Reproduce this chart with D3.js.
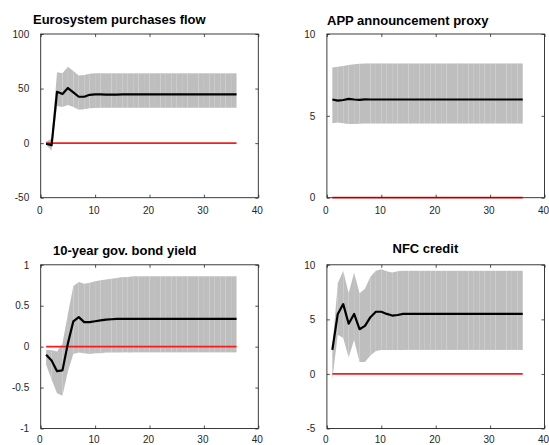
<!DOCTYPE html>
<html>
<head>
<meta charset="utf-8">
<script src="https://cdn.jsdelivr.net/npm/d3@7"></script>
<style>
  body { margin: 0; background: #fff; }
  svg { display: block; font-family: "Liberation Sans", Arial, Helvetica, sans-serif; }
</style>
</head>
<body>
<div id="chart"></div>
<script>
// horizons (months after the shock)
var horizon = [1,2,3,4,5,6,7,8,9,10,11,12,13,14,15,16,17,18,19,20,21,22,23,24,25,26,27,28,29,30,31,32,33,34,35,36];
var xTicks = [0, 10, 20, 30, 40];

// Eurosystem purchases flow
var purchMed = [-0.5,-2,47,45,50.5,46.5,42.5,42.5,44.3,44.6,44.6,44.5,44.4,44.5,44.6,44.6,44.6,44.6,44.6,44.6,44.6,44.6,44.6,44.6,44.6,44.6,44.6,44.6,44.6,44.6,44.6,44.6,44.6,44.6,44.6,44.6];
var purchHi  = [1.5,4,65,64,70,66,62,62.5,63.5,64,64,64,64,64,64,64,64,64,64,64,64,64,64,64,64,64,64,64,64,64,64,64,64,64,64,64];
var purchLo  = [-1.5,-7,34,33,35,33,30.5,31,32,32.3,32.4,32.4,32.4,32.4,32.4,32.4,32.4,32.4,32.4,32.4,32.4,32.4,32.4,32.4,32.4,32.4,32.4,32.4,32.4,32.4,32.4,32.4,32.4,32.4,32.4,32.4];
var purchTicks = [-50, 0, 50, 100];

// APP announcement proxy
var appMed = [6.0,5.93,5.97,6.04,6.0,5.98,6.01,6.0,6.0,6.0,6.0,6.0,6.0,6.0,6.0,6.0,6.0,6.0,6.0,6.0,6.0,6.0,6.0,6.0,6.0,6.0,6.0,6.0,6.0,6.0,6.0,6.0,6.0,6.0,6.0,6.0];
var appHi  = [7.95,8.0,8.05,8.1,8.15,8.18,8.2,8.2,8.2,8.2,8.2,8.2,8.2,8.2,8.2,8.2,8.2,8.2,8.2,8.2,8.2,8.2,8.2,8.2,8.2,8.2,8.2,8.2,8.2,8.2,8.2,8.2,8.2,8.2,8.2,8.2];
var appLo  = [4.55,4.6,4.55,4.5,4.5,4.52,4.53,4.53,4.53,4.53,4.53,4.53,4.53,4.53,4.53,4.53,4.53,4.53,4.53,4.53,4.53,4.53,4.53,4.53,4.53,4.53,4.53,4.53,4.53,4.53,4.53,4.53,4.53,4.53,4.53,4.53];
var appTicks = [0, 5, 10];

// 10-year gov. bond yield
var yieldMed = [-0.1,-0.17,-0.3,-0.29,0.04,0.31,0.36,0.3,0.3,0.31,0.32,0.33,0.335,0.34,0.34,0.34,0.34,0.34,0.34,0.34,0.34,0.34,0.34,0.34,0.34,0.34,0.34,0.34,0.34,0.34,0.34,0.34,0.34,0.34,0.34,0.34];
var yieldHi  = [-0.04,-0.04,-0.06,0.04,0.4,0.74,0.79,0.77,0.78,0.8,0.81,0.82,0.83,0.84,0.85,0.85,0.86,0.86,0.86,0.86,0.86,0.86,0.86,0.86,0.86,0.86,0.86,0.86,0.86,0.86,0.86,0.86,0.86,0.86,0.86,0.86];
var yieldLo  = [-0.22,-0.4,-0.57,-0.6,-0.3,-0.09,-0.07,-0.08,-0.09,-0.08,-0.08,-0.07,-0.07,-0.07,-0.07,-0.07,-0.07,-0.07,-0.07,-0.07,-0.07,-0.07,-0.07,-0.07,-0.07,-0.07,-0.07,-0.07,-0.07,-0.07,-0.07,-0.07,-0.07,-0.07,-0.07,-0.07];
var yieldTicks = [-1, -0.5, 0, 0.5, 1];

// NFC credit
var nfcMed = [2.2,5.5,6.4,4.6,5.5,4.1,4.4,5.2,5.7,5.7,5.5,5.35,5.4,5.5,5.5,5.5,5.5,5.5,5.5,5.5,5.5,5.5,5.5,5.5,5.5,5.5,5.5,5.5,5.5,5.5,5.5,5.5,5.5,5.5,5.5,5.5];
var nfcHi  = [2.4,8.3,9.45,7.4,9.3,7.4,7.8,8.9,9.45,9.6,9.4,9.3,9.4,9.45,9.45,9.45,9.45,9.45,9.45,9.45,9.45,9.45,9.45,9.45,9.45,9.45,9.45,9.45,9.45,9.45,9.45,9.45,9.45,9.45,9.45,9.45];
var nfcLo  = [-0.5,3.6,3.3,1.5,3.1,1.1,1.1,1.7,2.1,2.2,2.2,2.2,2.2,2.2,2.2,2.2,2.2,2.2,2.2,2.2,2.2,2.2,2.2,2.2,2.2,2.2,2.2,2.2,2.2,2.2,2.2,2.2,2.2,2.2,2.2,2.2];
var nfcTicks = [-5, 0, 5, 10];

var W = 549, H = 445;

var panels = [
  {title: "Eurosystem purchases flow", med: purchMed, hi: purchHi, lo: purchLo, ticks: purchTicks,
   box: [40.7, 34, 258.3, 197.7], titleX: 33, titleY: 23.5, xPad: 9},
  {title: "APP announcement proxy", med: appMed, hi: appHi, lo: appLo, ticks: appTicks,
   box: [326.9, 34, 544.5, 197.7], titleX: 327, titleY: 24.5, xPad: 9},
  {title: "10-year gov. bond yield", med: yieldMed, hi: yieldHi, lo: yieldLo, ticks: yieldTicks,
   box: [40.7, 264.8, 258.3, 428.5], titleX: 53, titleY: 254.5, xPad: 7.5},
  {title: "NFC credit", med: nfcMed, hi: nfcHi, lo: nfcLo, ticks: nfcTicks,
   box: [326.9, 264.8, 544.5, 428.5], titleX: 392.5, titleY: 252.5, xPad: 7.5}
];

var svg = d3.select("#chart").append("svg")
    .attr("width", W)
    .attr("height", H);

panels.forEach(function(p) {
  var x0 = p.box[0], y0 = p.box[1], x1 = p.box[2], y1 = p.box[3];
  var ext = d3.extent(p.ticks);

  var x = d3.scaleLinear().domain([0, 40]).range([x0, x1]);
  var y = d3.scaleLinear().domain(ext).range([y1, y0]);

  var g = svg.append("g");

  // band, one patch per step so the seams show like the original
  var area = d3.area()
      .x(function(d) { return x(d.h); })
      .y0(function(d) { return y(d.lo); })
      .y1(function(d) { return y(d.hi); });
  for (var i = 0; i < horizon.length - 1; i++) {
    var seg = [
      {h: horizon[i], lo: p.lo[i], hi: p.hi[i]},
      {h: horizon[i + 1], lo: p.lo[i + 1], hi: p.hi[i + 1]}
    ];
    g.append("path")
        .attr("d", area(seg))
        .attr("fill", "#bebebe")
        .attr("stroke", "none");
  }

  // zero line
  g.append("line")
      .attr("x1", x(horizon[0]))
      .attr("x2", x(horizon[horizon.length - 1]))
      .attr("y1", y(0))
      .attr("y2", y(0))
      .attr("stroke", "#f41e1e")
      .attr("stroke-width", 1.8);

  // median response
  var line = d3.line()
      .x(function(d, i) { return x(horizon[i]); })
      .y(function(d) { return y(d); });
  g.append("path")
      .datum(p.med)
      .attr("d", line)
      .attr("fill", "none")
      .attr("stroke", "#000")
      .attr("stroke-width", 2.2)
      .attr("stroke-linejoin", "round");

  // axes (ticks inward, box all round)
  var ax = g.append("g").attr("transform", "translate(0," + y1 + ")")
      .call(d3.axisBottom(x).tickValues(xTicks).tickSize(-3).tickPadding(p.xPad).tickFormat(d3.format("d")));
  var axTop = g.append("g").attr("transform", "translate(0," + y0 + ")")
      .call(d3.axisTop(x).tickValues(xTicks).tickSize(-3).tickFormat(""));
  var ay = g.append("g").attr("transform", "translate(" + x0 + ",0)")
      .call(d3.axisLeft(y).tickValues(p.ticks).tickSize(-3).tickPadding(11.5).tickFormat(function(d) { return String(d); }));
  var ayR = g.append("g").attr("transform", "translate(" + x1 + ",0)")
      .call(d3.axisRight(y).tickValues(p.ticks).tickSize(-3).tickFormat(""));

  [ax, axTop, ay, ayR].forEach(function(a) {
    a.select(".domain").remove();
    a.selectAll(".tick line").attr("stroke", "#262626").attr("stroke-width", 0.8);
    a.selectAll(".tick text")
        .attr("fill", "#262626")
        .style("font-size", "10px")
        .style("font-family", "'Liberation Sans', Arial, Helvetica, sans-serif");
  });
  ax.selectAll(".tick text").attr("dx", -1.5);

  g.append("rect")
      .attr("x", x0).attr("y", y0)
      .attr("width", x1 - x0).attr("height", y1 - y0)
      .attr("fill", "none")
      .attr("stroke", "#262626")
      .attr("stroke-width", 0.9);

  svg.append("text")
      .attr("x", p.titleX)
      .attr("y", p.titleY)
      .attr("font-size", "13px")
      .attr("font-weight", "bold")
      .attr("fill", "#000")
      .text(p.title);
});
</script>
</body>
</html>
